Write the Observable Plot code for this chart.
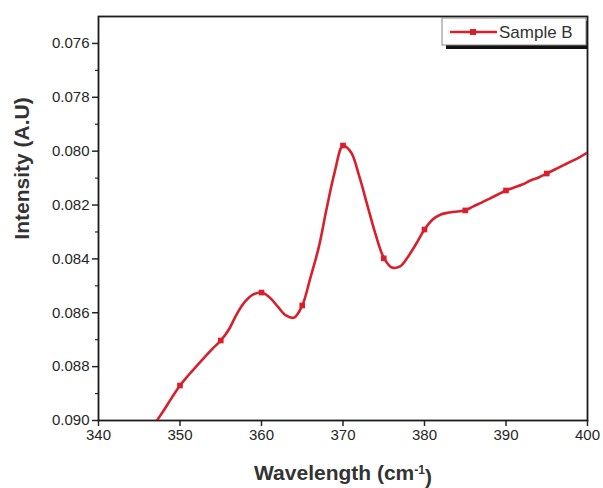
<!DOCTYPE html>
<html><head><meta charset="utf-8">
<script src="https://cdn.jsdelivr.net/npm/d3@7"></script>
<script src="https://cdn.jsdelivr.net/npm/@observablehq/plot@0.6"></script>
<style>body{margin:0;background:#fff}</style>
</head><body><div id="chart"></div>
<script>
const wavelength = [346,347,348,349,350,351,352,353,354,355,356,357,358,359,360,361,362,363,364,365,366,367,368,369,370,371,372,373,374,375,376,377,378,379,380,381,382,383,384,385,386,387,388,389,390,391,392,393,394,395,396,397,398,399,400];
const intensity = [0.09052,0.09007,0.08963,0.08915,0.08870,0.08833,0.08799,0.08766,0.08733,0.08703,0.08662,0.08603,0.08558,0.08532,0.08525,0.08543,0.08577,0.08610,0.08618,0.08573,0.08470,0.08360,0.08212,0.08075,0.07979,0.08005,0.08094,0.08202,0.08309,0.08395,0.08432,0.08428,0.08391,0.08343,0.08291,0.08254,0.08235,0.08228,0.08224,0.08220,0.08205,0.08191,0.08176,0.08161,0.08146,0.08135,0.08124,0.08109,0.08098,0.08083,0.08068,0.08053,0.08038,0.08023,0.08005];
const markerWavelength = [350,355,360,365,370,375,380,385,390,395];
const markerIntensity = [0.08870,0.08703,0.08525,0.08573,0.07979,0.08398,0.08291,0.08220,0.08146,0.08083];
const xTicks = [340,350,360,370,380,390,400];
const yTicks = [0.076,0.078,0.080,0.082,0.084,0.086,0.088,0.090];
const yMinorTicks = [0.077,0.079,0.081,0.083,0.085,0.087,0.089];
const seriesName = "Sample B";
const xTitle = "Wavelength (cm-1)";
const yTitle = "Intensity (A.U)";

const red = "#d8202c";
const lineData = wavelength.map((w, i) => ({w, v: intensity[i]}));
const markerData = markerWavelength.map((w, i) => ({w, v: markerIntensity[i]}));

const plot = Plot.plot({
  width: 603, height: 488,
  marginLeft: 98, marginRight: 16, marginTop: 16, marginBottom: 68,
  style: {fontFamily: "'Liberation Sans', Arial, sans-serif", fontSize: "15px", color: "#262626", background: "#fff"},
  x: {domain: [340, 400]},
  y: {domain: [0.075, 0.090], reverse: true},
  marks: [
    Plot.axisX({ticks: xTicks, tickSize: 6, tickPadding: 3, label: null, fontSize: 15, strokeWidth: 1.5}),
    Plot.axisY({ticks: yTicks, tickSize: 6, tickPadding: 3, tickFormat: d3.format(".3f"), label: null, fontSize: 15, strokeWidth: 1.5}),
    Plot.axisY({ticks: yMinorTicks, tickSize: 3, tickFormat: () => "", label: null, strokeWidth: 1.2}),
    Plot.frame({stroke: "#1a1a1a", strokeWidth: 1.8}),
    Plot.line(lineData, {x: "w", y: "v", stroke: red, strokeWidth: 2.6, curve: "catmull-rom", clip: true}),
    Plot.dot(markerData, {x: "w", y: "v", symbol: "square", r: 3.2, fill: red}),
    Plot.text([xTitle], {frameAnchor: "bottom", dy: 59, text: d => d, fontSize: 21, fontWeight: "bold", fill: "#333", textAnchor: "middle"}),
    Plot.text([yTitle], {frameAnchor: "left", dx: -76, dy: -50, rotate: -90, text: d => d, fontSize: 21, fontWeight: "bold", fill: "#333", textAnchor: "middle"})
  ]
});

const svg = d3.select(plot);
svg.selectAll("text").filter(function() { return this.textContent === xTitle; }).each(function() {
  const t = d3.select(this);
  t.text(null);
  t.append("tspan").text("Wavelength (cm");
  t.append("tspan").attr("dy", "-0.5em").attr("font-size", "12px").text("-1");
  t.append("tspan").attr("dy", "0.5em").text(")");
});

// legend
const lg = svg.append("g").attr("font-family", "'Liberation Sans', Arial, sans-serif");
lg.append("rect").attr("x", 446).attr("y", 21).attr("width", 141).attr("height", 28).attr("fill", "#111");
lg.append("rect").attr("x", 442).attr("y", 18).attr("width", 144).attr("height", 27).attr("fill", "#fff").attr("stroke", "#888").attr("stroke-width", 1);
lg.append("line").attr("x1", 450).attr("x2", 497).attr("y1", 32).attr("y2", 32).attr("stroke", red).attr("stroke-width", 2.6);
lg.append("rect").attr("x", 470).attr("y", 29).attr("width", 6).attr("height", 6).attr("fill", red);
lg.append("text").attr("x", 499).attr("y", 32).attr("dy", "0.35em").attr("text-anchor", "start").attr("font-size", 17).attr("fill", "#333").text(seriesName);

document.getElementById("chart").appendChild(plot);
</script>
</body></html>
